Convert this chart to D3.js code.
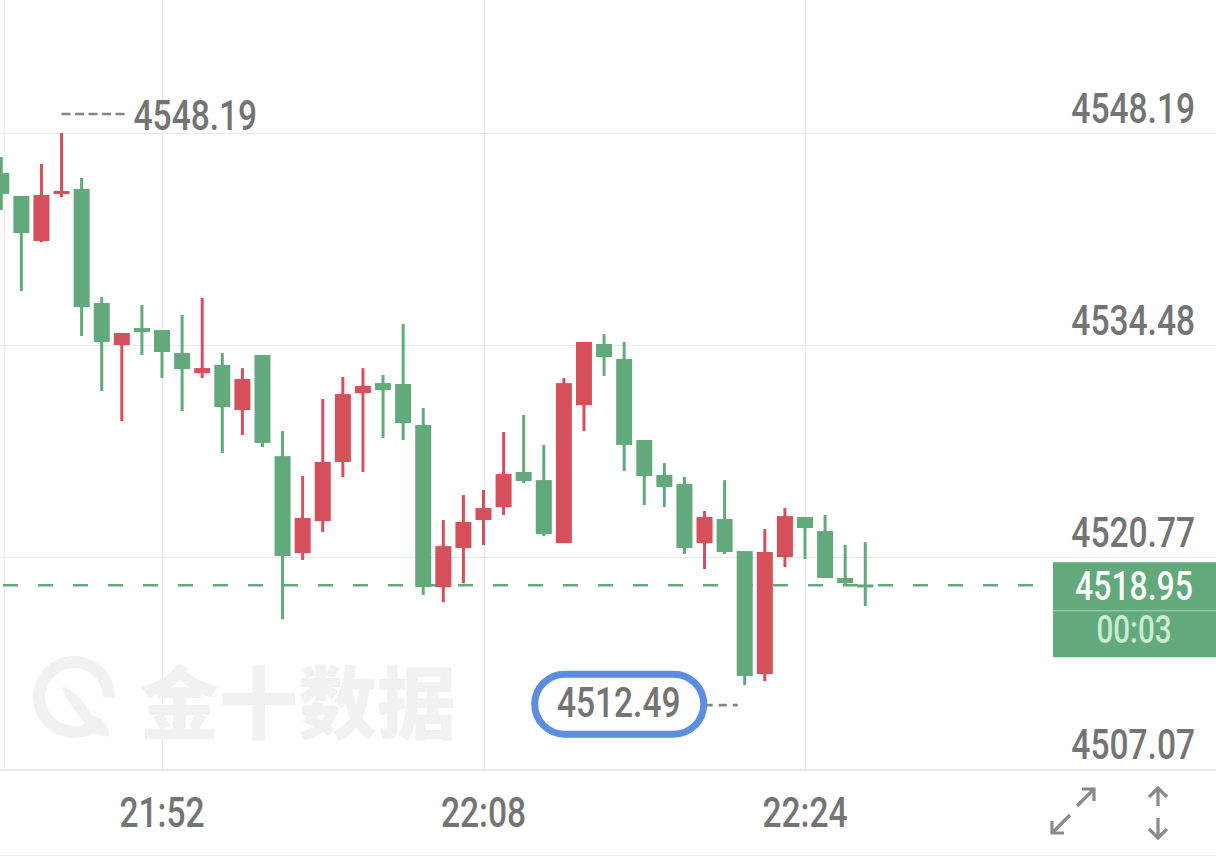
<!DOCTYPE html>
<html><head><meta charset="utf-8">
<script src="https://cdn.jsdelivr.net/npm/d3@7"></script>
<style>html,body{margin:0;padding:0;background:#fff;overflow:hidden}</style>
</head><body><svg id="c" width="1216" height="861"></svg>
<script>
// ---- data ----
const times  = ["21:44","21:45","21:46","21:47","21:48","21:49","21:50","21:51","21:52","21:53","21:54","21:55","21:56","21:57","21:58","21:59","22:00","22:01","22:02","22:03","22:04","22:05","22:06","22:07","22:08","22:09","22:10","22:11","22:12","22:13","22:14","22:15","22:16","22:17","22:18","22:19","22:20","22:21","22:22","22:23","22:24","22:25","22:26","22:27"];
const opens  = [4545.60,4544.12,4541.21,4544.40,4544.57,4537.20,4534.48,4535.58,4535.45,4533.96,4532.67,4533.19,4530.28,4533.84,4527.30,4521.03,4523.10,4526.92,4531.38,4532.02,4531.96,4529.31,4518.83,4521.36,4523.17,4524.01,4526.27,4525.75,4521.68,4530.60,4534.55,4533.58,4528.34,4526.08,4525.49,4521.68,4523.23,4521.16,4513.21,4520.77,4523.36,4522.45,4519.42,4519.00];
const highs  = [4546.64,4544.12,4546.19,4548.19,4545.28,4537.59,4535.26,4537.07,4535.45,4536.42,4537.52,4533.96,4532.99,4533.84,4528.92,4526.01,4530.99,4532.41,4532.99,4532.54,4535.84,4530.41,4523.17,4524.78,4525.11,4528.86,4529.96,4528.02,4532.35,4534.68,4535.19,4534.68,4528.34,4526.85,4525.95,4523.75,4525.75,4521.16,4522.58,4523.94,4523.36,4523.49,4521.55,4521.74];
const lows   = [4543.21,4537.97,4541.14,4544.05,4535.06,4531.51,4529.57,4533.84,4532.35,4530.21,4532.35,4527.50,4528.66,4527.89,4516.76,4520.58,4522.39,4525.95,4526.27,4528.47,4528.34,4518.32,4517.86,4519.09,4521.55,4523.49,4525.56,4522.13,4521.68,4528.92,4532.48,4526.33,4524.14,4524.01,4520.97,4520.00,4520.97,4512.49,4512.75,4520.13,4520.64,4519.42,4518.90,4517.60];
const closes = [4544.25,4541.72,4544.18,4544.44,4536.94,4534.68,4535.26,4535.32,4534.03,4532.93,4532.99,4530.47,4532.28,4528.15,4520.84,4523.30,4526.92,4531.31,4531.83,4531.57,4529.44,4518.83,4521.48,4523.04,4523.94,4526.14,4525.69,4522.26,4532.02,4534.68,4533.71,4528.02,4526.01,4525.30,4521.36,4523.36,4521.10,4513.08,4521.10,4523.42,4522.65,4519.42,4519.09,4518.95];
const yTicks = [4548.19, 4534.48, 4520.77, 4507.07];
const xTicks = ["21:52", "22:08", "22:24"];
const lastPrice = 4518.95;
const countdown = "00:03";
const maxLabel = "4548.19";
const minLabel = "4512.49";
const watermark = "金十数据";

// ---- setup ----
const W = 1216, H = 861;
const svg = d3.select("#c");
const parse = d3.timeParse("%H:%M");
const x = d3.scaleTime().domain([parse("21:52"), parse("22:24")]).range([162, 805]);
const y = d3.scaleLinear().domain([4507.07, 4548.19]).range([769, 133]);
const GREEN = "#62a97b", RED = "#d5505a", GRID = "#e8e8e8", TXT = "#747474";
const FONT = "Roboto, 'DejaVu Sans', sans-serif";
const FS = 43, SX = 0.78;

const data = times.map((t, i) => ({t: parse(t), o: opens[i], h: highs[i], l: lows[i], c: closes[i]}));

svg.append("defs").append("clipPath").attr("id", "plot")
  .append("rect").attr("x", 0).attr("y", 0).attr("width", 1053).attr("height", 770);

// ---- grid ----
const grid = svg.append("g");
grid.selectAll("line.h").data(yTicks).join("line")
  .attr("x1", 0).attr("x2", W).attr("y1", d => Math.round(y(d)) + 0.5).attr("y2", d => Math.round(y(d)) + 0.5)
  .attr("stroke", GRID).attr("stroke-width", 1);
grid.selectAll("line.v").data(xTicks).join("line")
  .attr("x1", d => Math.round(x(parse(d))) + 0.5).attr("x2", d => Math.round(x(parse(d))) + 0.5)
  .attr("y1", 0).attr("y2", 770).attr("stroke", GRID).attr("stroke-width", 1);
grid.append("line").attr("x1", 4.5).attr("x2", 4.5).attr("y1", 0).attr("y2", 770).attr("stroke", "#f0f0f0");
grid.append("line").attr("x1", 0).attr("x2", W).attr("y1", 855.5).attr("y2", 855.5).attr("stroke", "#ececec");

// ---- watermark ----
const wm = svg.append("g").attr("fill", "#f1f1f1").attr("stroke", "#f1f1f1");
const ring = d3.arc().innerRadius(29).outerRadius(41).startAngle(Math.PI * 0.78).endAngle(Math.PI * 2.5);
wm.append("path").attr("d", ring()).attr("transform", "translate(74,697)").attr("stroke", "none");
wm.append("path").attr("stroke", "none")
  .attr("d", "M62,686 C74,690 86,704 92,716 C100,716 108,722 110,736 C96,738 86,732 84,722 C76,712 66,700 62,686 Z");
wm.append("text").text(watermark).attr("x", 140).attr("y", 733).attr("stroke", "none")
  .attr("font-family", "'Noto Sans CJK SC', sans-serif").attr("font-weight", 900).attr("font-size", 79);

// ---- current price dashed line ----
svg.append("line").attr("x1", 3).attr("x2", 1053).attr("y1", y(lastPrice)).attr("y2", y(lastPrice))
  .attr("stroke", GREEN).attr("stroke-width", 2.6).attr("stroke-dasharray", "15,20");

// ---- candles ----
const cg = svg.append("g").attr("clip-path", "url(#plot)");
const bw = 16;
const candle = cg.selectAll("g.k").data(data).join("g")
  .attr("fill", d => d.c >= d.o ? RED : GREEN).attr("stroke", d => d.c >= d.o ? RED : GREEN);
candle.append("line")
  .attr("x1", d => x(d.t)).attr("x2", d => x(d.t))
  .attr("y1", d => y(d.h)).attr("y2", d => y(d.l)).attr("stroke-width", 3);
candle.append("rect")
  .attr("x", d => x(d.t) - bw / 2).attr("width", bw)
  .attr("y", d => y(Math.max(d.o, d.c)))
  .attr("height", d => Math.max(3, Math.abs(y(d.o) - y(d.c))))
  .attr("stroke", "none");

function label(g, txt, tx, ty, anchor, fill, size) {
  return g.append("text").text(txt)
    .attr("transform", `translate(${tx},${ty}) scale(${SX},1)`)
    .attr("text-anchor", anchor).attr("fill", fill)
    .attr("font-family", FONT).attr("font-weight", 500).attr("font-size", size || FS);
}

// ---- y axis labels ----
const ya = svg.append("g");
yTicks.forEach(v => label(ya, d3.format(".2f")(v), 1195, Math.round(y(v)) - 10, "end", TXT));

// ---- x axis ----
svg.append("line").attr("x1", 0).attr("x2", W).attr("y1", 770.5).attr("y2", 770.5).attr("stroke", GRID);
const xa = svg.append("g");
xTicks.forEach(t => label(xa, t, x(parse(t)), 827, "middle", TXT));

// ---- max / min annotations ----
const hi = data[d3.maxIndex(data, d => d.h)], lo = data[d3.minIndex(data, d => d.l)];
const ann = svg.append("g");
ann.append("line").attr("x1", x(hi.t)).attr("x2", x(hi.t) + 64).attr("y1", y(hi.h) - 19).attr("y2", y(hi.h) - 19)
  .attr("stroke", "#858585").attr("stroke-width", 2.6).attr("stroke-dasharray", "9,4.5");
label(ann, maxLabel, x(hi.t) + 72, y(hi.h) - 3, "start", TXT);

const loX = x(lo.t), loY = y(lo.l);
ann.append("line").attr("x1", loX - 54).attr("x2", loX - 7).attr("y1", loY + 20).attr("y2", loY + 20)
  .attr("stroke", "#858585").attr("stroke-width", 2.6).attr("stroke-dasharray", "8,6");
ann.append("rect").attr("x", loX - 210).attr("y", loY - 11).attr("width", 169).attr("height", 60)
  .attr("rx", 30).attr("ry", 30).attr("fill", "#fff").attr("stroke", "#5b8de0").attr("stroke-width", 7);
label(ann, minLabel, loX - 126, loY + 32, "middle", TXT);

// ---- price tag ----
const tag = svg.append("g");
const py = y(lastPrice);
tag.append("rect").attr("x", 1053).attr("y", py - 23).attr("width", 163).attr("height", 95).attr("fill", GREEN);
tag.append("line").attr("x1", 1053).attr("x2", 1216).attr("y1", py + 25.5).attr("y2", py + 25.5)
  .attr("stroke", "#a9d6b8").attr("stroke-width", 1);
label(tag, d3.format(".2f")(lastPrice), 1134, py + 15, "middle", "#ffffff", 41);
label(tag, countdown, 1134, py + 58, "middle", "#c9ecd3", 38);

// ---- icons ----
const ic = svg.append("g").attr("stroke", "#8a8a8a").attr("stroke-width", 3.2).attr("fill", "none");
ic.append("path").attr("d", "M1077,806 L1094,789 M1082,789 L1094,789 L1094,801");
ic.append("path").attr("d", "M1070,815 L1052,833 M1052,821 L1052,833 L1064,833");
ic.append("path").attr("d", "M1158,788 L1158,806 M1149,797 L1158,788 L1167,797");
ic.append("path").attr("d", "M1158,818 L1158,838 M1149,829 L1158,838 L1167,829");
</script></body></html>
